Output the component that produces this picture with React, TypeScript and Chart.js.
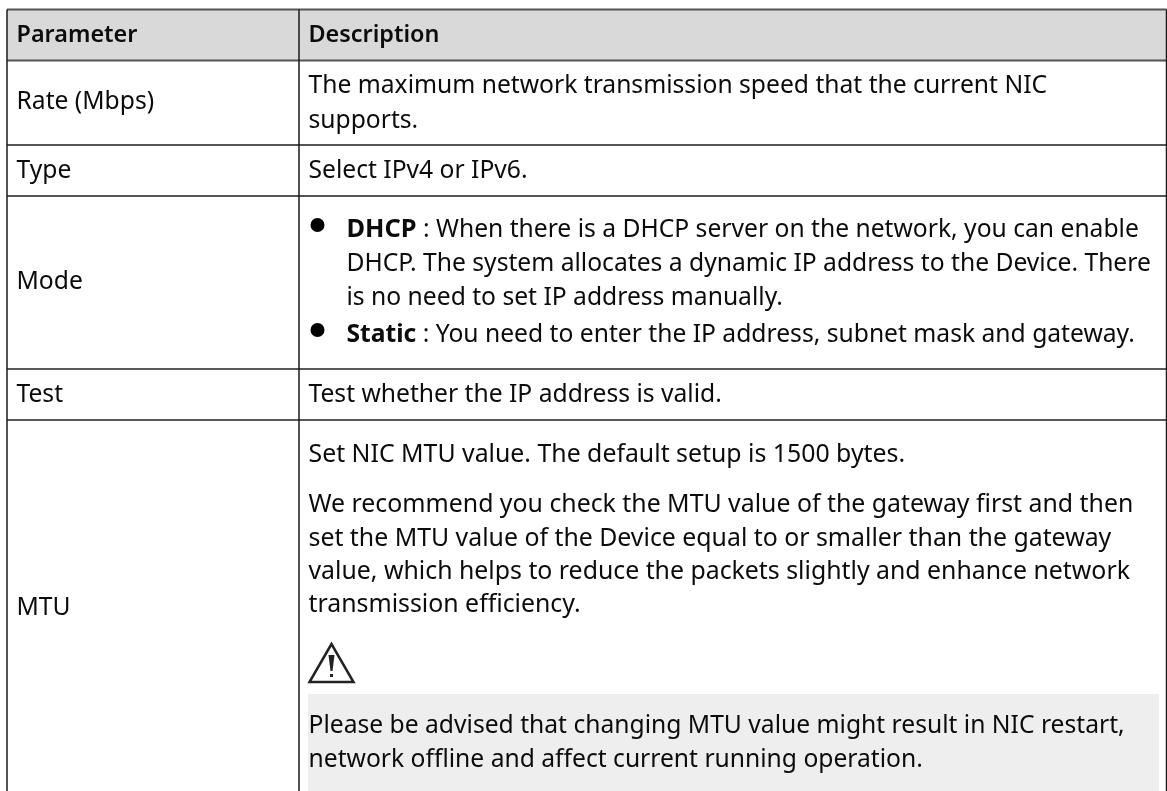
import React, { useEffect, useRef } from "react";
import { Chart, registerables } from "chart.js";

Chart.register(...registerables);

const columnEdges = [7, 299, 1166.5];
const rowEdges = [9.5, 60.5, 145, 196, 369, 420];
const rowLabels = ["Parameter", "Rate (Mbps)", "Type", "Mode", "Test", "MTU"];
const rowLabelBaselines = [42, 109, 178, 289, 402, 615];
const headerDescription = "Description";
const rateLines = [
  "The maximum network transmission speed that the current NIC",
  "supports.",
];
const rateBaselines = [93, 128];
const typeLine = "Select IPv4 or IPv6.";
const modeFirst = [
  ["DHCP", " : When there is a DHCP server on the network, you can enable"],
  ["", "DHCP. The system allocates a dynamic IP address to the Device. There"],
  ["", "is no need to set IP address manually."],
];
const modeBaselines = [237, 271, 305];
const modeSecond = ["Static", " : You need to enter the IP address, subnet mask and gateway."];
const testLine = "Test whether the IP address is valid.";
const mtuLines = [
  "Set NIC MTU value. The default setup is 1500 bytes.",
  "We recommend you check the MTU value of the gateway first and then",
  "set the MTU value of the Device equal to or smaller than the gateway",
  "value, which helps to reduce the packets slightly and enhance network",
  "transmission efficiency.",
];
const mtuBaselines = [462, 512, 546, 579, 612];
const noteLines = [
  "Please be advised that changing MTU value might result in NIC restart,",
  "network offline and affect current running operation.",
];
const noteBaselines = [733, 767];

const FONT = '"Noto Sans", sans-serif';
const SIZE = 24.65;
const MTU_SIZE = 24.85;
const HEADER_SIZE = 23.4;
const BOLD_SIZE = 25.4;

const tablePlugin = {
  id: "tablePlugin",
  afterDraw(chart: any) {
    const { ctx, scales } = chart;
    const X = (v: number) => scales.x.getPixelForValue(v);
    const Y = (v: number) => scales.y.getPixelForValue(v);
    const text = (s: string, x: number, y: number, weight = 400, size = SIZE) => {
      ctx.font = `${weight} ${size}px ${FONT}`;
      ctx.fillStyle = "#0c0c0c";
      ctx.textBaseline = "alphabetic";
      ctx.fillText(s, x, Y(y));
      return ctx.measureText(s).width;
    };
    ctx.save();
    ctx.fillStyle = "#d9d9d9";
    ctx.fillRect(X(columnEdges[0]), Y(rowEdges[0]), X(columnEdges[2]) - X(columnEdges[0]), Y(rowEdges[1]) - Y(rowEdges[0]));
    ctx.fillStyle = "#eeeeee";
    ctx.fillRect(X(308), Y(694), X(1159) - X(308), Y(791) - Y(694));

    rowEdges.forEach((r) => {
      ctx.strokeStyle = r < 300 ? "#555" : "#222";
      ctx.lineWidth = r < 300 ? 2 : 1.5;
      ctx.beginPath();
      ctx.moveTo(X(columnEdges[0]), Y(r));
      ctx.lineTo(X(columnEdges[2]), Y(r));
      ctx.stroke();
    });
    ctx.strokeStyle = "#1a1a1a";
    ctx.lineWidth = 1.5;
    for (const c of columnEdges) {
      ctx.beginPath();
      ctx.moveTo(X(c), Y(rowEdges[0]));
      ctx.lineTo(X(c), Y(791));
      ctx.stroke();
    }

    const left = X(16.5);
    const right = X(308.5);
    rowLabels.forEach((l, i) => {
      if (i === 0) text(l, left, rowLabelBaselines[i], 600, HEADER_SIZE);
      else text(l, left, rowLabelBaselines[i]);
    });
    text(headerDescription, right, rowLabelBaselines[0], 600, HEADER_SIZE);
    rateLines.forEach((l, i) => text(l, right, rateBaselines[i]));
    text(typeLine, right, rowLabelBaselines[2]);

    const modeIndent = X(346.5);
    modeFirst.forEach((parts, i) => {
      const y = modeBaselines[i];
      if (parts[0]) {
        const w = text(parts[0], modeIndent, y, 700, BOLD_SIZE);
        text(parts[1], modeIndent + w, y);
      } else {
        text(parts[1], modeIndent, y);
      }
    });
    const w = text(modeSecond[0], modeIndent, 342, 700);
    text(modeSecond[1], modeIndent + w, 342);

    ctx.fillStyle = "#000";
    for (const cy of [225, 330]) {
      ctx.beginPath();
      ctx.arc(X(317.5), Y(cy), 7, 0, Math.PI * 2);
      ctx.fill();
    }

    text(testLine, right, rowLabelBaselines[4]);
    mtuLines.forEach((l, i) => text(l, right, mtuBaselines[i], 400, MTU_SIZE));

    // warning triangle
    ctx.strokeStyle = "#222";
    ctx.lineWidth = 2.5;
    ctx.lineJoin = "miter";
    ctx.beginPath();
    ctx.moveTo(X(331.5), Y(644));
    ctx.lineTo(X(309.5), Y(682));
    ctx.lineTo(X(353.5), Y(682));
    ctx.closePath();
    ctx.stroke();
    ctx.fillStyle = "#222";
    ctx.beginPath();
    ctx.moveTo(X(328.5), Y(655));
    ctx.lineTo(X(334.5), Y(655));
    ctx.lineTo(X(332.5), Y(671));
    ctx.lineTo(X(330.5), Y(671));
    ctx.closePath();
    ctx.fill();
    ctx.fillRect(X(330), Y(674), 3, 3);

    noteLines.forEach((l, i) => text(l, right, noteBaselines[i]));
    ctx.restore();
  },
};

export default function App() {
  const ref = useRef<HTMLCanvasElement>(null);
  useEffect(() => {
    document.body.style.margin = "0";
    document.body.style.background = "#fff";
    const chart = new Chart(ref.current!, {
      type: "scatter",
      data: { datasets: [{ data: [], pointRadius: 0 }] },
      options: {
        animation: false,
        responsive: false,
        layout: { padding: 0 },
        plugins: { legend: { display: false }, tooltip: { enabled: false }, title: { display: false } },
        scales: {
          x: { type: "linear", min: 0, max: 1167, display: false },
          y: { type: "linear", min: 0, max: 791, reverse: true, display: false },
        },
      },
      plugins: [tablePlugin],
    } as any);
    return () => chart.destroy();
  }, []);
  return (
    <canvas ref={ref} width={1167} height={791} style={{ display: "block", width: 1167, height: 791 }} />
  );
}
